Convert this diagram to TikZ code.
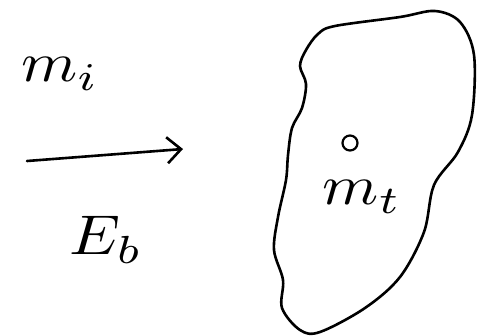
\documentclass[tikz,border=0pt]{standalone}
\usepackage{tikz}
\usetikzlibrary{arrows.meta,positioning}

\newcommand{\hand}[1]{\scalebox{6.4}[5.6]{$#1$}}

\begin{document}
\begin{tikzpicture}[
    x=1pt, y=-1pt,
    txt/.style={inner sep=0pt},
    dot/.style={draw, circle, line width=2.2pt, minimum width=11pt, minimum height=15pt, inner sep=0pt},
    ink/.style={line width=2.6pt, line cap=round, line join=round},
    arrow/.style={ink, -{Straight Barb[length=14pt, width=26pt, line width=2.6pt]}}
]
\useasboundingbox (0,0) rectangle (481,335);
\node[txt] (mi) at (60,74) {\hand{m_i}};
\coordinate (start) at (27,161);
\coordinate (end) at (183,149);
\node[txt] (eb) at (106,240) {\hand{E_b}};
\node[dot] (centre) at (350,143) {};
\node[txt] (mt) at (362,197) {\hand{m_t}};

\draw[arrow] (start) -- (end);

% target body
\draw[ink] plot[smooth cycle, tension=0.55] coordinates {
    (335,26) (400,17) (435,11) (460,22) (474,55) (472,115) (458,152)
    (434,185) (424,232) (400,277) (365,308) (320,332) (300,330)
    (282,308) (283,280) (274,250) (278,217) (286,180) (288,155)
    (292,128) (302,108) (306,84) (300,66) (306,50) (318,34)};
\end{tikzpicture}
\end{document}
